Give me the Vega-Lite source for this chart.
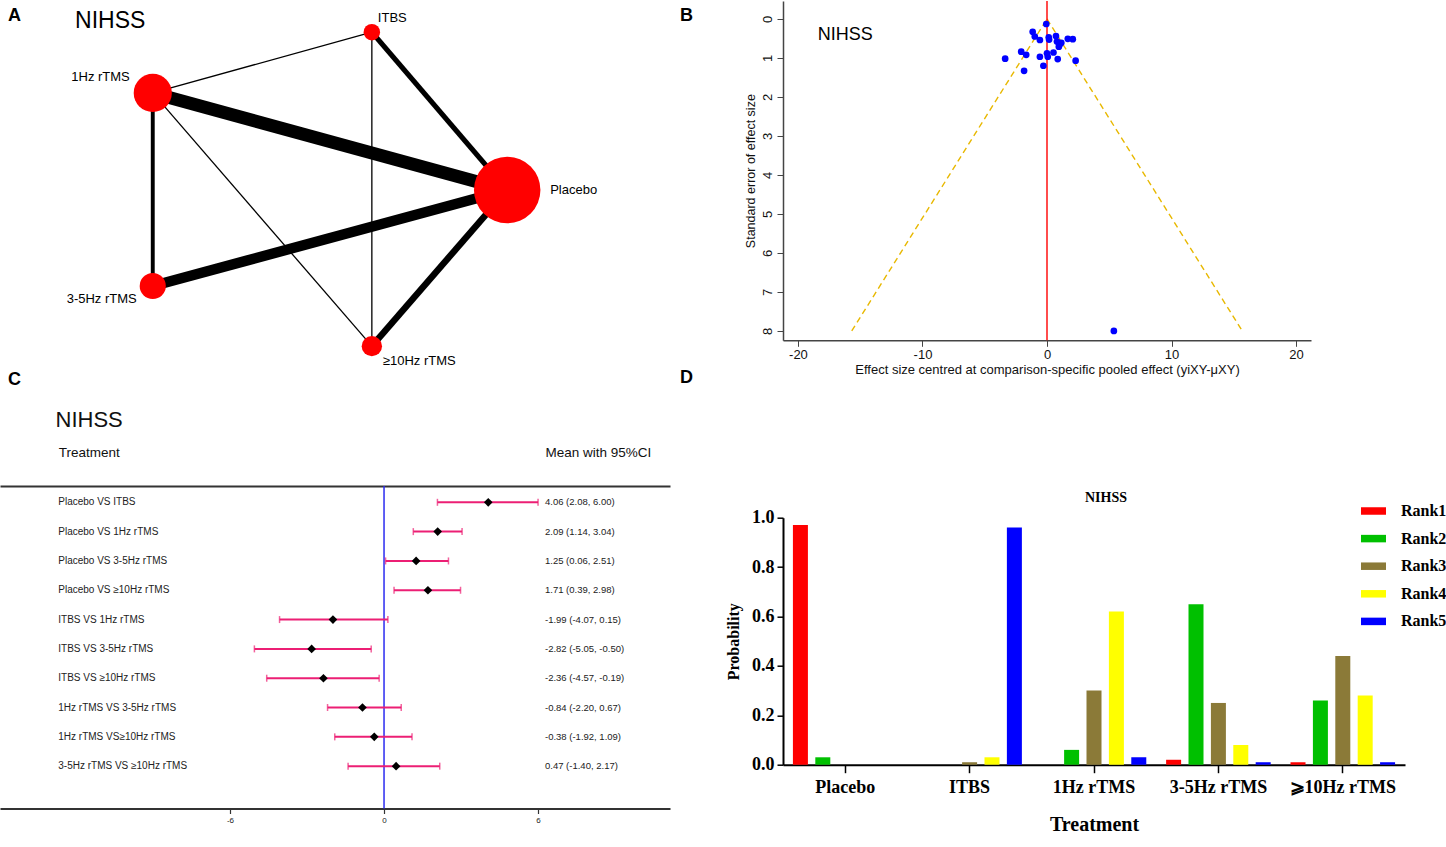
{
  "$schema": "https://vega.github.io/schema/vega-lite/v6.json",
  "padding": 0,
  "background": "white",
  "bounds": "flush",
  "spacing": 783,
  "config": {
    "font": "Liberation Sans",
    "view": {"stroke": null},
    "axis": {"grid": false, "labelFont": "Liberation Sans", "titleFont": "Liberation Sans"},
    "title": {"font": "Liberation Sans", "fontWeight": "bold", "fontSize": 18, "anchor": "start", "frame": "group", "color": "black"}
  },
  "datasets": {
    "nodes": [
      {"node": "ITBS", "x": 5.55, "y": 10.49, "n": 38},
      {"node": "1Hz rTMS", "x": 2.28, "y": 8.52, "n": 204},
      {"node": "Placebo", "x": 7.57, "y": 5.37, "n": 620},
      {"node": "3-5Hz rTMS", "x": 2.28, "y": 2.26, "n": 96},
      {"node": "≥10Hz rTMS", "x": 5.55, "y": 0.31, "n": 58}
    ],
    "edges": [
      {"from": "1Hz rTMS", "to": "Placebo", "studies": 10},
      {"from": "3-5Hz rTMS", "to": "Placebo", "studies": 8},
      {"from": "≥10Hz rTMS", "to": "Placebo", "studies": 5},
      {"from": "ITBS", "to": "Placebo", "studies": 4},
      {"from": "1Hz rTMS", "to": "3-5Hz rTMS", "studies": 3},
      {"from": "ITBS", "to": "≥10Hz rTMS", "studies": 1},
      {"from": "1Hz rTMS", "to": "ITBS", "studies": 1},
      {"from": "1Hz rTMS", "to": "≥10Hz rTMS", "studies": 1}
    ],
    "funnel": [
      {"side": "left", "es": 0, "se": 0},
      {"side": "left", "es": -15.68, "se": 8},
      {"side": "right", "es": 0, "se": 0},
      {"side": "right", "es": 15.68, "se": 8}
    ],
    "studies": [
      {"es": -0.06, "se": 0.13}, {"es": -1.15, "se": 0.33}, {"es": -0.98, "se": 0.45},
      {"es": -0.57, "se": 0.54}, {"es": 0.14, "se": 0.47}, {"es": 0.17, "se": 0.53},
      {"es": 0.72, "se": 0.44}, {"es": 0.8, "se": 0.58}, {"es": 1.0, "se": 0.67},
      {"es": 1.15, "se": 0.61}, {"es": 0.95, "se": 0.71}, {"es": 1.67, "se": 0.51},
      {"es": 2.07, "se": 0.52}, {"es": -2.07, "se": 0.84}, {"es": -1.67, "se": 0.92},
      {"es": -3.36, "se": 1.02}, {"es": -0.57, "se": 0.97}, {"es": 0.0, "se": 0.88},
      {"es": 0.06, "se": 0.97}, {"es": 0.52, "se": 0.86}, {"es": 0.86, "se": 1.03},
      {"es": 2.3, "se": 1.07}, {"es": -0.29, "se": 1.2}, {"es": -1.84, "se": 1.33},
      {"es": 5.37, "se": 8.0}
    ],
    "forest": [
      {"comparison": "Placebo VS ITBS", "mean": 4.06, "lo": 2.08, "hi": 6.0, "ci": "4.06 (2.08, 6.00)"},
      {"comparison": "Placebo VS 1Hz rTMS", "mean": 2.09, "lo": 1.14, "hi": 3.04, "ci": "2.09 (1.14, 3.04)"},
      {"comparison": "Placebo VS 3-5Hz rTMS", "mean": 1.25, "lo": 0.06, "hi": 2.51, "ci": "1.25 (0.06, 2.51)"},
      {"comparison": "Placebo VS ≥10Hz rTMS", "mean": 1.71, "lo": 0.39, "hi": 2.98, "ci": "1.71 (0.39, 2.98)"},
      {"comparison": "ITBS VS 1Hz rTMS", "mean": -1.99, "lo": -4.07, "hi": 0.15, "ci": "-1.99 (-4.07, 0.15)"},
      {"comparison": "ITBS VS 3-5Hz rTMS", "mean": -2.82, "lo": -5.05, "hi": -0.5, "ci": "-2.82 (-5.05, -0.50)"},
      {"comparison": "ITBS VS ≥10Hz rTMS", "mean": -2.36, "lo": -4.57, "hi": -0.19, "ci": "-2.36 (-4.57, -0.19)"},
      {"comparison": "1Hz rTMS VS  3-5Hz rTMS", "mean": -0.84, "lo": -2.2, "hi": 0.67, "ci": "-0.84 (-2.20, 0.67)"},
      {"comparison": "1Hz rTMS VS≥10Hz rTMS", "mean": -0.38, "lo": -1.92, "hi": 1.09, "ci": "-0.38 (-1.92, 1.09)"},
      {"comparison": "3-5Hz rTMS VS ≥10Hz rTMS", "mean": 0.47, "lo": -1.4, "hi": 2.17, "ci": "0.47 (-1.40, 2.17)"}
    ],
    "ranks": [
      {"treatment": "Placebo", "rank": "Rank1", "prob": 0.97},
      {"treatment": "Placebo", "rank": "Rank2", "prob": 0.03},
      {"treatment": "Placebo", "rank": "Rank3", "prob": 0.0},
      {"treatment": "Placebo", "rank": "Rank4", "prob": 0.0},
      {"treatment": "Placebo", "rank": "Rank5", "prob": 0.0},
      {"treatment": "ITBS", "rank": "Rank1", "prob": 0.0},
      {"treatment": "ITBS", "rank": "Rank2", "prob": 0.0},
      {"treatment": "ITBS", "rank": "Rank3", "prob": 0.01},
      {"treatment": "ITBS", "rank": "Rank4", "prob": 0.03},
      {"treatment": "ITBS", "rank": "Rank5", "prob": 0.96},
      {"treatment": "1Hz rTMS", "rank": "Rank1", "prob": 0.0},
      {"treatment": "1Hz rTMS", "rank": "Rank2", "prob": 0.06},
      {"treatment": "1Hz rTMS", "rank": "Rank3", "prob": 0.3},
      {"treatment": "1Hz rTMS", "rank": "Rank4", "prob": 0.62},
      {"treatment": "1Hz rTMS", "rank": "Rank5", "prob": 0.03},
      {"treatment": "3-5Hz rTMS", "rank": "Rank1", "prob": 0.02},
      {"treatment": "3-5Hz rTMS", "rank": "Rank2", "prob": 0.65},
      {"treatment": "3-5Hz rTMS", "rank": "Rank3", "prob": 0.25},
      {"treatment": "3-5Hz rTMS", "rank": "Rank4", "prob": 0.08},
      {"treatment": "3-5Hz rTMS", "rank": "Rank5", "prob": 0.01},
      {"treatment": "⩾10Hz rTMS", "rank": "Rank1", "prob": 0.01},
      {"treatment": "⩾10Hz rTMS", "rank": "Rank2", "prob": 0.26},
      {"treatment": "⩾10Hz rTMS", "rank": "Rank3", "prob": 0.44},
      {"treatment": "⩾10Hz rTMS", "rank": "Rank4", "prob": 0.28},
      {"treatment": "⩾10Hz rTMS", "rank": "Rank5", "prob": 0.01}
    ]
  },
  "hconcat": [
    {
      "bounds": "flush",
      "spacing": 105,
      "vconcat": [
        {
          "width": 670,
          "height": 380,
          "title": {"text": "A", "dx": 8, "offset": -24},
          "layer": [
            {
              "data": {"name": "edges"},
              "transform": [
                {"lookup": "from", "from": {"data": {"name": "nodes"}, "key": "node", "fields": ["x", "y"]}, "as": ["x1", "y1"]},
                {"lookup": "to", "from": {"data": {"name": "nodes"}, "key": "node", "fields": ["x", "y"]}, "as": ["x2", "y2"]}
              ],
              "mark": {"type": "rule", "color": "black", "strokeCap": "butt"},
              "encoding": {
                "x": {"field": "x1", "type": "quantitative", "scale": {"domain": [0, 10], "nice": false, "zero": false}, "axis": null},
                "y": {"field": "y1", "type": "quantitative", "scale": {"domain": [-0.82, 11.5], "nice": false, "zero": false}, "axis": null},
                "x2": {"field": "x2"},
                "y2": {"field": "y2"},
                "strokeWidth": {"field": "studies", "type": "quantitative", "scale": {"domain": [0, 10], "range": [0, 13]}, "legend": null}
              }
            },
            {
              "data": {"name": "nodes"},
              "mark": {"type": "circle", "color": "#ff0000", "opacity": 1},
              "encoding": {
                "x": {"field": "x", "type": "quantitative", "axis": null},
                "y": {"field": "y", "type": "quantitative", "axis": null},
                "size": {"field": "n", "type": "quantitative", "scale": {"domain": [0, 620], "range": [0, 4420]}, "legend": null}
              }
            },
            {
              "data": {"name": "nodes"},
              "transform": [{"filter": "datum.node === 'ITBS'"}],
              "mark": {"type": "text", "align": "left", "baseline": "middle", "dx": 6, "dy": -14, "fontSize": 13},
              "encoding": {"x": {"field": "x", "type": "quantitative", "axis": null}, "y": {"field": "y", "type": "quantitative", "axis": null}, "text": {"field": "node"}}
            },
            {
              "data": {"name": "nodes"},
              "transform": [{"filter": "datum.node === '1Hz rTMS'"}],
              "mark": {"type": "text", "align": "right", "baseline": "middle", "dx": -23, "dy": -16, "fontSize": 13},
              "encoding": {"x": {"field": "x", "type": "quantitative", "axis": null}, "y": {"field": "y", "type": "quantitative", "axis": null}, "text": {"field": "node"}}
            },
            {
              "data": {"name": "nodes"},
              "transform": [{"filter": "datum.node === 'Placebo'"}],
              "mark": {"type": "text", "align": "left", "baseline": "middle", "dx": 43, "dy": 0, "fontSize": 13},
              "encoding": {"x": {"field": "x", "type": "quantitative", "axis": null}, "y": {"field": "y", "type": "quantitative", "axis": null}, "text": {"field": "node"}}
            },
            {
              "data": {"name": "nodes"},
              "transform": [{"filter": "datum.node === '3-5Hz rTMS'"}],
              "mark": {"type": "text", "align": "right", "baseline": "middle", "dx": -16, "dy": 13, "fontSize": 13},
              "encoding": {"x": {"field": "x", "type": "quantitative", "axis": null}, "y": {"field": "y", "type": "quantitative", "axis": null}, "text": {"field": "node"}}
            },
            {
              "data": {"name": "nodes"},
              "transform": [{"filter": "datum.node === '≥10Hz rTMS'"}],
              "mark": {"type": "text", "align": "left", "baseline": "middle", "dx": 11, "dy": 15, "fontSize": 13},
              "encoding": {"x": {"field": "x", "type": "quantitative", "axis": null}, "y": {"field": "y", "type": "quantitative", "axis": null}, "text": {"field": "node"}}
            },
            {
              "data": {"values": [{}]},
              "mark": {"type": "text", "text": "NIHSS", "align": "left", "baseline": "middle", "fontSize": 23},
              "encoding": {"x": {"datum": 1.12, "type": "quantitative", "axis": null}, "y": {"datum": 10.85, "type": "quantitative", "axis": null}}
            }
          ]
        },
        {
          "width": 670,
          "height": 322.5,
          "title": {"text": "C", "dx": 8, "offset": 19},
          "data": {"name": "forest"},
          "resolve": {"axis": {"x": "independent"}},
          "layer": [
            {
              "data": {"values": [{}]},
              "mark": {"type": "rule", "color": "#2b2bf0", "strokeWidth": 1.5},
              "encoding": {
                "x": {"datum": 0, "type": "quantitative", "scale": {"domain": [-14.96, 11.14], "nice": false, "zero": false},
                  "axis": {"orient": "top", "values": [-12.69, 6.27], "labelExpr": "datum.value < 0 ? 'Treatment' : 'Mean with 95%CI'", "ticks": false, "tickSize": 0, "labelPadding": 34, "labelAlign": "left", "labelBaseline": "middle", "labelFontSize": 13.5, "labelColor": "#111", "labelFlush": false, "labelOverlap": false, "labelBound": false, "domainColor": "#333", "domainWidth": 2, "title": "NIHSS", "titleX": 55, "titleY": -67, "titleAlign": "left", "titleBaseline": "middle", "titleFontSize": 22, "titleFontWeight": "normal", "titleColor": "#111"}}
              }
            },
            {
              "mark": {"type": "rule", "color": "#ec1f74", "strokeWidth": 2},
              "encoding": {
                "x": {"field": "lo", "type": "quantitative",
                  "axis": {"orient": "bottom", "values": [-6, 0, 6], "labelExpr": "'' + datum.value", "title": null, "domainColor": "#333", "domainWidth": 2, "tickColor": "#333", "tickSize": 5, "tickWidth": 1.2, "labelFontSize": 8, "labelPadding": 3, "labelColor": "#222", "labelFlush": false}},
                "x2": {"field": "hi"},
                "y": {"field": "comparison", "type": "ordinal", "axis": null,
                  "scale": {"type": "point", "domain": ["Placebo VS ITBS", "Placebo VS 1Hz rTMS", "Placebo VS 3-5Hz rTMS", "Placebo VS ≥10Hz rTMS", "ITBS VS 1Hz rTMS", "ITBS VS 3-5Hz rTMS", "ITBS VS ≥10Hz rTMS", "1Hz rTMS VS  3-5Hz rTMS", "1Hz rTMS VS≥10Hz rTMS", "3-5Hz rTMS VS ≥10Hz rTMS"], "padding": 1.377, "align": 0.278}}
              }
            },
            {
              "mark": {"type": "tick", "color": "#ec1f74", "thickness": 1.5, "size": 7},
              "encoding": {"x": {"field": "lo", "type": "quantitative", "axis": null}, "y": {"field": "comparison", "type": "ordinal", "axis": null}}
            },
            {
              "mark": {"type": "tick", "color": "#ec1f74", "thickness": 1.5, "size": 7},
              "encoding": {"x": {"field": "hi", "type": "quantitative", "axis": null}, "y": {"field": "comparison", "type": "ordinal", "axis": null}}
            },
            {
              "mark": {"type": "point", "shape": "diamond", "filled": true, "color": "black", "size": 75, "opacity": 1},
              "encoding": {"x": {"field": "mean", "type": "quantitative", "axis": null}, "y": {"field": "comparison", "type": "ordinal", "axis": null}}
            },
            {
              "mark": {"type": "text", "align": "left", "baseline": "middle", "fontSize": 10, "color": "#222"},
              "encoding": {"x": {"datum": -12.69, "type": "quantitative", "axis": null}, "y": {"field": "comparison", "type": "ordinal", "axis": null}, "text": {"field": "comparison"}}
            },
            {
              "mark": {"type": "text", "align": "left", "baseline": "middle", "fontSize": 9.5, "color": "#222"},
              "encoding": {"x": {"datum": 6.27, "type": "quantitative", "axis": null}, "y": {"field": "comparison", "type": "ordinal", "axis": null}, "text": {"field": "ci"}}
            }
          ]
        }
      ]
    },
    {
      "bounds": "flush",
      "spacing": 176.7,
      "vconcat": [
        {
          "width": 528,
          "height": 339.3,
          "title": {"text": "B", "dx": -103, "offset": -25},
          "layer": [
            {
              "data": {"name": "funnel"},
              "mark": {"type": "line", "color": "#e8b800", "strokeDash": [6, 4], "strokeWidth": 1.4},
              "encoding": {
                "x": {"field": "es", "type": "quantitative", "scale": {"domain": [-21.2, 21.2], "nice": false, "zero": false},
                  "axis": {"values": [-20, -10, 0, 10, 20], "labelExpr": "'' + datum.value", "title": "Effect size centred at comparison-specific pooled effect (yiXY-μXY)", "domainColor": "#444", "domainWidth": 1.5, "tickColor": "#444", "tickSize": 6, "labelFontSize": 13, "labelColor": "#111", "labelPadding": 2, "labelFlush": false, "titleFontSize": 13, "titleFontWeight": "normal", "titleColor": "#111", "titlePadding": 2}},
                "y": {"field": "se", "type": "quantitative", "scale": {"domain": [-0.46, 8.24], "nice": false, "zero": false, "reverse": true},
                  "axis": {"values": [0, 1, 2, 3, 4, 5, 6, 7, 8], "labelAngle": -90, "labelAlign": "center", "labelBaseline": "bottom", "labelFontSize": 13, "labelColor": "#111", "labelPadding": 3, "labelFlush": false, "tickSize": 6, "tickColor": "#444", "domainColor": "#444", "domainWidth": 1.5, "title": "Standard error of effect size", "titleFontSize": 12.5, "titleFontWeight": "normal", "titleColor": "#111", "titlePadding": 4}},
                "detail": {"field": "side"}
              }
            },
            {
              "data": {"values": [{}]},
              "mark": {"type": "rule", "color": "#ff0000", "strokeWidth": 1.4},
              "encoding": {"x": {"datum": 0, "type": "quantitative"}}
            },
            {
              "data": {"name": "studies"},
              "mark": {"type": "circle", "color": "#0000ff", "size": 45, "opacity": 1},
              "encoding": {"x": {"field": "es", "type": "quantitative"}, "y": {"field": "se", "type": "quantitative"}}
            },
            {
              "data": {"values": [{}]},
              "mark": {"type": "text", "text": "NIHSS", "align": "left", "baseline": "middle", "fontSize": 18},
              "encoding": {"x": {"datum": -18.4, "type": "quantitative"}, "y": {"datum": 0.42, "type": "quantitative"}}
            }
          ]
        },
        {
          "width": 622,
          "height": 247,
          "title": {"text": "D", "dx": -103, "offset": 104},
          "data": {"name": "ranks"},
          "layer": [
            {
              "mark": {"type": "bar"},
              "encoding": {
                "x": {"field": "treatment", "type": "nominal",
                  "scale": {"domain": ["Placebo", "ITBS", "1Hz rTMS", "3-5Hz rTMS", "⩾10Hz rTMS"], "paddingInner": 0.1, "paddingOuter": 0.05},
                  "axis": {"title": "Treatment", "labelAngle": 0, "labelFont": "Liberation Serif", "labelFontWeight": "bold", "labelFontSize": 18, "labelColor": "black", "labelPadding": 6, "tickSize": 8, "tickWidth": 1.5, "tickColor": "black", "domainColor": "black", "domainWidth": 2, "titleFont": "Liberation Serif", "titleFontWeight": "bold", "titleFontSize": 20, "titleColor": "black", "titlePadding": 18}},
                "xOffset": {"field": "rank", "type": "nominal", "scale": {"domain": ["Rank1", "Rank2", "Rank3", "Rank4", "Rank5"], "paddingInner": 0.33, "paddingOuter": 0.165}},
                "y": {"field": "prob", "type": "quantitative", "scale": {"domain": [0, 1], "nice": false},
                  "axis": {"title": "Probability", "values": [0, 0.2, 0.4, 0.6, 0.8, 1], "format": ".1f", "labelFont": "Liberation Serif", "labelFontWeight": "bold", "labelFontSize": 18, "labelColor": "black", "labelPadding": 3, "labelFlush": false, "tickSize": 6, "tickWidth": 1.5, "tickColor": "black", "domainColor": "black", "domainWidth": 2, "titleFont": "Liberation Serif", "titleFontWeight": "bold", "titleFontSize": 16, "titleColor": "black", "titlePadding": 10}},
                "color": {"field": "rank", "type": "nominal",
                  "scale": {"domain": ["Rank1", "Rank2", "Rank3", "Rank4", "Rank5"], "range": ["#ff0000", "#00c000", "#8b7a38", "#ffff00", "#0000ff"]},
                  "legend": {"orient": "none", "legendX": 1361, "legendY": 497.5, "title": null, "symbolType": "M-1,-0.3H1V0.3H-1Z", "symbolSize": 625, "symbolStrokeWidth": 0, "symbolOpacity": 1, "labelFont": "Liberation Serif", "labelFontWeight": "bold", "labelFontSize": 16, "labelColor": "black", "labelOffset": 15, "rowPadding": 6.6}}
              }
            },
            {
              "data": {"values": [{}]},
              "mark": {"type": "text", "text": "NIHSS", "font": "Liberation Serif", "fontWeight": "bold", "fontSize": 14, "dx": 12, "baseline": "middle"},
              "encoding": {"y": {"datum": 1.08, "type": "quantitative"}}
            }
          ]
        }
      ]
    }
  ]
}
